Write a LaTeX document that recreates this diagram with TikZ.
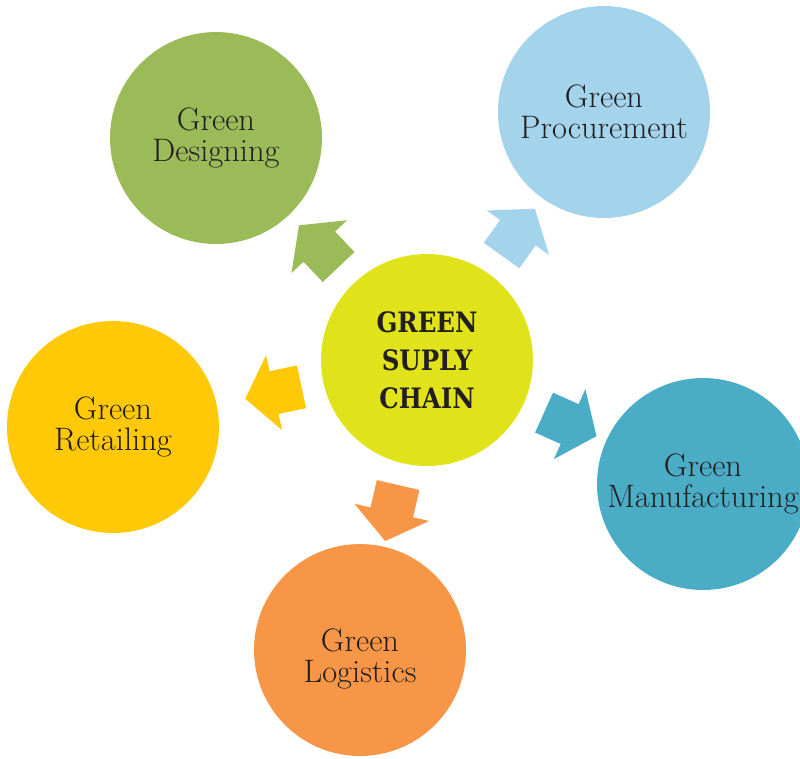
\documentclass[tikz,border=0pt]{standalone}
\usepackage{fontspec}
\usepackage{tikz}
\usetikzlibrary{shapes.arrows, calc}

\newfontfamily\slabbold[FakeStretch=0.87]{DejaVu Serif}

\definecolor{inkgray}{HTML}{231F20}
\definecolor{hubyellow}{HTML}{E0E31A}
\definecolor{olivegreen}{HTML}{9BBB59}
\definecolor{skyblue}{HTML}{A3D4EC}
\definecolor{sunyellow}{HTML}{FFC907}
\definecolor{aquablue}{HTML}{4BACC6}
\definecolor{orangetone}{HTML}{F79646}

\begin{document}
\begin{tikzpicture}[x=0.02cm, y=-0.02cm, % <- pixel-like units, y pointing down
        caption/.style={align=center, text=inkgray, font=\fontsize{18.5}{17.5}\selectfont},
        bubble/.style={circle, minimum size=4.24cm, inner sep=0pt, caption},
        pointer/.style={single arrow, sloped, allow upside down, anchor=tail,
            inner xsep=0pt, inner ysep=0.43cm, single arrow head extend=0.33cm,
            single arrow tip angle=105, minimum height=1.15cm}]
    \useasboundingbox (0,0) rectangle (800,758);

    % hub and the five stages round it
    \node[bubble, fill=hubyellow, font=\slabbold\bfseries\fontsize{16}{21.5}\selectfont] (hub) at (427,360) {GREEN\\SUPLY\\CHAIN};
    \node[bubble, fill=olivegreen] (design) at (216,138) {Green\\Designing};
    \node[bubble, fill=skyblue] (procure) at (604,112) {Green\\Procurement};
    \node[bubble, fill=sunyellow] (retail) at (113,427) {Green\\Retailing};
    \node[bubble, fill=aquablue] (manuf) at (703,484) {Green\\Manufacturing};
    \node[bubble, fill=orangetone] (logist) at (360,650) {};
    \node[caption] (logistText) at ([yshift=-5pt]logist.center) {Green\\Logistics};

    % block arrows, tail a little way off the hub
    \path ($(hub.center)!2.56cm!(design.center)$) -- (design) node[pointer, pos=0, fill=olivegreen] (toDesign) {};
    \path ($(hub.center)!2.56cm!(procure.center)$) -- (procure) node[pointer, pos=0, fill=skyblue] (toProcure) {};
    \path ($(hub.center)!2.56cm!(retail.center)$) -- (retail) node[pointer, pos=0, fill=sunyellow] (toRetail) {};
    \path ($(hub.center)!2.56cm!(manuf.center)$) -- (manuf) node[pointer, pos=0, fill=aquablue] (toManuf) {};
    \path ($(hub.center)!2.56cm!(logist.center)$) -- (logist) node[pointer, pos=0, fill=orangetone] (toLogist) {};
\end{tikzpicture}
\end{document}
